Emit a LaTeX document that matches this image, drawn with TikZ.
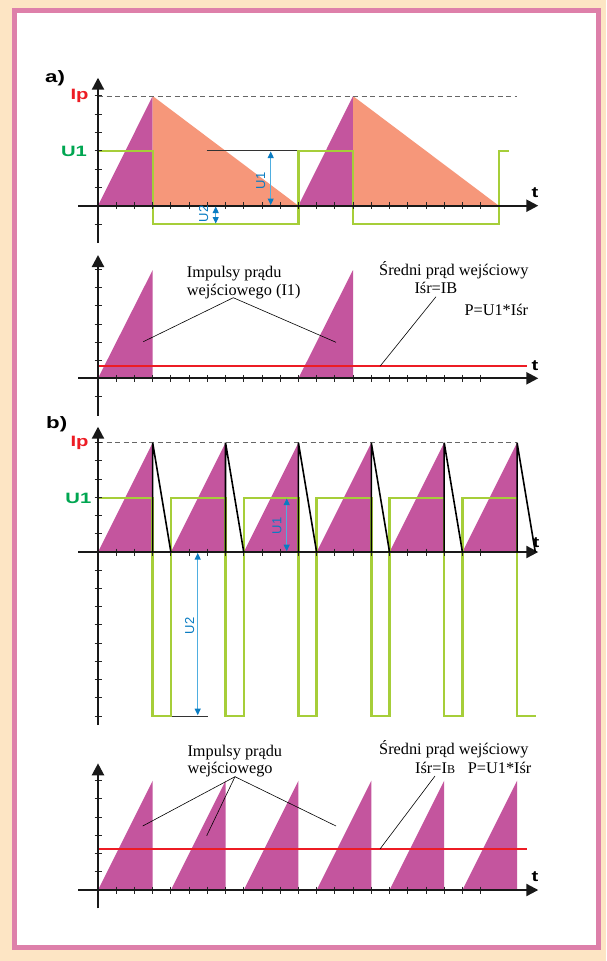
\documentclass[tikz,border=0pt]{standalone}
\usepackage{fontspec}
\setmainfont{Liberation Serif}
\newfontfamily\lblfont{Liberation Sans}[FakeStretch=1.35]
\newfontfamily\dimfont{Liberation Sans}
\usetikzlibrary{arrows.meta}
\definecolor{peach}{HTML}{FDE5C4}
\definecolor{framepink}{HTML}{DE80AA}
\definecolor{pulse}{HTML}{C4559E}
\definecolor{salmon}{HTML}{F6977A}
\definecolor{wave}{HTML}{A6CE39}
\definecolor{lblgreen}{HTML}{00A651}
\definecolor{lblred}{HTML}{ED1C24}
\definecolor{dimblue}{HTML}{0A7CC2}
\definecolor{dimshaft}{HTML}{4FAEE0}
\begin{document}
\begin{tikzpicture}[x=1pt,y=-1pt,
  axisline/.style={line width=2.2pt,black!90},
  axisarrow/.style={axisline,-{Triangle[length=12pt,width=12pt]}},
  tickmark/.style={line width=0.9pt,black!85},
  wavep/.style={wave,line width=2.4pt,line join=miter},
  avg/.style={lblred,line width=2.2pt},
  leader/.style={black,line width=0.6pt},
  capt/.style={font=\fontsize{16.3}{18}\selectfont,inner sep=0pt,anchor=base west},
  sig/.style={font=\lblfont\bfseries\fontsize{15}{15}\selectfont,inner sep=0pt},
  part/.style={font=\lblfont\bfseries\fontsize{16.5}{16.5}\selectfont,inner sep=0pt,anchor=base west},
  dimarrow/.style={dimshaft,line width=1.1pt,{Triangle[length=6.5pt,width=6pt,color=dimblue]}-{Triangle[length=6.5pt,width=6pt,color=dimblue]}},
  dimlbl/.style={dimblue,font=\dimfont\fontsize{13}{13}\selectfont,rotate=90,inner sep=0pt},
  peakline/.style={dash pattern=on 5pt off 3.5pt,gray!80!black,line width=0.8pt},
  saw/.style={black,line width=1.6pt,line join=miter},
  refline/.style={black!80,line width=0.8pt}
]
\useasboundingbox (0,0) rectangle (606,961);
% background and frame
\fill[peach] (0,0) rectangle (606,961);
\fill[framepink] (12,8) rectangle (601,950);
\fill[white] (17,13) rectangle (596,945);

% ================= part a, upper =================
\fill[pulse] (98,205.7) -- (152.7,96) -- (152.7,205.7) -- cycle;
\fill[salmon] (152.7,96) -- (298.4,205.7) -- (152.7,205.7) -- cycle;
\fill[pulse] (298.4,205.7) -- (353,96) -- (353,205.7) -- cycle;
\fill[salmon] (353,96) -- (498.8,205.7) -- (353,205.7) -- cycle;
\draw[peakline] (98,96) -- (517.3,96);
\draw[refline] (206.7,150.7) -- (298.4,150.7);
\draw[wavep] (98,150.7) -- (152.7,150.7) -- (152.7,224) -- (298.4,224) -- (298.4,150.7) -- (353,150.7) -- (353,224) -- (498.8,224) -- (498.8,150.7) -- (508.7,150.7);
\foreach \i in {1,...,21} \draw[tickmark] ({98+18.22*\i},202.2) -- ++(0,7);
\foreach \j in {-1,1,2,3,4,5,6} \draw[tickmark] (94.5,{205.7-18.3*\j}) -- ++(7,0);
\draw[axisarrow] (78.3,205.7) -- (538.3,205.7);
\draw[axisarrow] (98,243) -- (98,77.7);
\draw[dimarrow] (270.7,151.5) -- (270.7,205);
\node[dimlbl] (dU1a) at (260.8,180.8) {U1};
\draw[dimarrow] (215.7,206.5) -- (215.7,223.5);
\node[dimlbl] (dU2a) at (203.7,213.8) {U2};
\node[part] (la) at (45,82.6) {a)};
\node[sig,lblred,anchor=base east] (ipa) at (88.8,99.3) {Ip};
\node[sig,lblgreen,anchor=base east] (u1a) at (87.2,156) {U1};
\node[sig,anchor=base] (ta) at (535,197.3) {t};

% ================= part a, lower =================
\fill[pulse] (98,378.3) -- (152.7,270) -- (152.7,378.3) -- cycle;
\fill[pulse] (298.4,378.3) -- (353,270) -- (353,378.3) -- cycle;
\draw[avg] (98,366) -- (526.7,366);
\foreach \i in {1,...,21} \draw[tickmark] ({98+18.22*\i},374.8) -- ++(0,7);
\foreach \j in {-1,1,2,3,4,5,6} \draw[tickmark] (94.5,{378.3-18.1*\j}) -- ++(7,0);
\draw[axisarrow] (78.3,378.3) -- (538.3,378.3);
\draw[axisarrow] (98,415.7) -- (98,255);
\node[sig,anchor=base] (ta2) at (535,370.7) {t};
\node[capt] (impa1) at (186.7,277.3) {Impulsy prądu};
\node[capt] (impa2) at (186.7,295.3) {wejściowego (I1)};
\node[capt] (sra1) at (379,275.7) {Średni prąd wejściowy};
\node[capt] (sra2) at (414.3,293.3) {Iśr=IB};
\node[capt] (pwa) at (464.3,315) {P=U1*Iśr};
\coordinate (lda) at (233.3,297.7);
\coordinate (lda1) at (143.3,341.7);
\coordinate (lda2) at (336,342.3);
\draw[leader] (lda) -- (lda1);
\draw[leader] (lda) -- (lda2);
\coordinate (lsa) at (436,296.7);
\coordinate (lsa1) at (380,366.3);
\draw[leader] (lsa) -- (lsa1);

% ================= part b, upper =================
\foreach \k in {0,...,5} {
  \pgfmathsetmacro\s{98+72.88*\k}
  \pgfmathsetmacro\p{\s+54.66}
  \fill[pulse] (\s,552) -- (\p,442.7) -- (\p,552) -- cycle;
}
\draw[peakline] (98,442.7) -- (517,442.7);
\draw[wavep] (98,497.7) -- (152.66,497.7) -- (152.66,716) -- (170.88,716) -- (170.88,497.7) -- (225.54,497.7) -- (225.54,716) -- (243.76,716) -- (243.76,497.7) -- (298.42,497.7) -- (298.42,716) -- (316.64,716) -- (316.64,497.7) -- (371.30,497.7) -- (371.30,716) -- (389.52,716) -- (389.52,497.7) -- (444.18,497.7) -- (444.18,716) -- (462.40,716) -- (462.40,497.7) -- (517.06,497.7) -- (517.06,716) -- (536,716);
\draw[refline] (171.9,716) -- (207.7,716);
\foreach \i in {1,...,21} \draw[tickmark] ({98+18.22*\i},548.5) -- ++(0,7);
\foreach \j in {-9,-8,-7,-6,-5,-4,-3,-2,-1,1,2,3,4,5,6} \draw[tickmark] (94.5,{552-18.22*\j}) -- ++(7,0);
\draw[axisarrow] (78.3,552) -- (538.3,552);
\draw[axisarrow] (98,725) -- (98,426.7);
\node[sig,anchor=base] (tb) at (536,547) {t};
\foreach \k in {0,...,5} {
  \pgfmathsetmacro\p{98+72.88*\k+54.66}
  \draw[saw] (\p,552) -- (\p,442.7) -- ({\p+18.22},552);
}
\draw[dimarrow] (286.7,498.5) -- (286.7,551.2);
\node[dimlbl] (dU1b) at (277,525.8) {U1};
\draw[dimarrow] (197.7,553) -- (197.7,715.2);
\node[dimlbl] (dU2b) at (189.7,626) {U2};
\node[part] (lb) at (46,428.3) {b)};
\node[sig,lblred,anchor=base east] (ipb) at (88.8,446) {Ip};
\node[sig,lblgreen,anchor=base east] (u1b) at (91.5,503.3) {U1};

% ================= part b, lower =================
\foreach \k in {0,...,5} {
  \pgfmathsetmacro\s{98+72.88*\k}
  \pgfmathsetmacro\p{\s+54.66}
  \fill[pulse] (\s,890) -- (\p,780.7) -- (\p,890) -- cycle;
}
\draw[avg] (98,849.3) -- (527.3,849.3);
\foreach \i in {1,...,21} \draw[tickmark] ({98+18.22*\i},886.5) -- ++(0,7);
\foreach \j in {1,2,3,4,5,6} \draw[tickmark] (94.5,{890-18.22*\j}) -- ++(7,0);
\draw[axisarrow] (78.3,890) -- (538.3,890);
\draw[axisarrow] (98,908.3) -- (98,763.3);
\node[sig,anchor=base] (tb2) at (535,881.7) {t};
\node[capt] (impb1) at (187.3,756) {Impulsy prądu};
\node[capt] (impb2) at (187.3,773.3) {wejściowego};
\node[capt] (srb1) at (379,754) {Średni prąd wejściowy};
\node[capt] (srb2) at (415,773.3) {Iśr=I{\fontsize{12}{12}\selectfont B}};
\node[capt] (pwb) at (467.7,773.3) {P=U1*Iśr};
\coordinate (ldb) at (235,776.7);
\coordinate (ldb1) at (142.7,826);
\coordinate (ldb2) at (206.7,835.7);
\coordinate (ldb3) at (336,826);
\draw[leader] (ldb) -- (ldb1);
\draw[leader] (ldb) -- (ldb2);
\draw[leader] (ldb) -- (ldb3);
\coordinate (lsb) at (435,776);
\coordinate (lsb1) at (380,849);
\draw[leader] (lsb) -- (lsb1);
\end{tikzpicture}
\end{document}
